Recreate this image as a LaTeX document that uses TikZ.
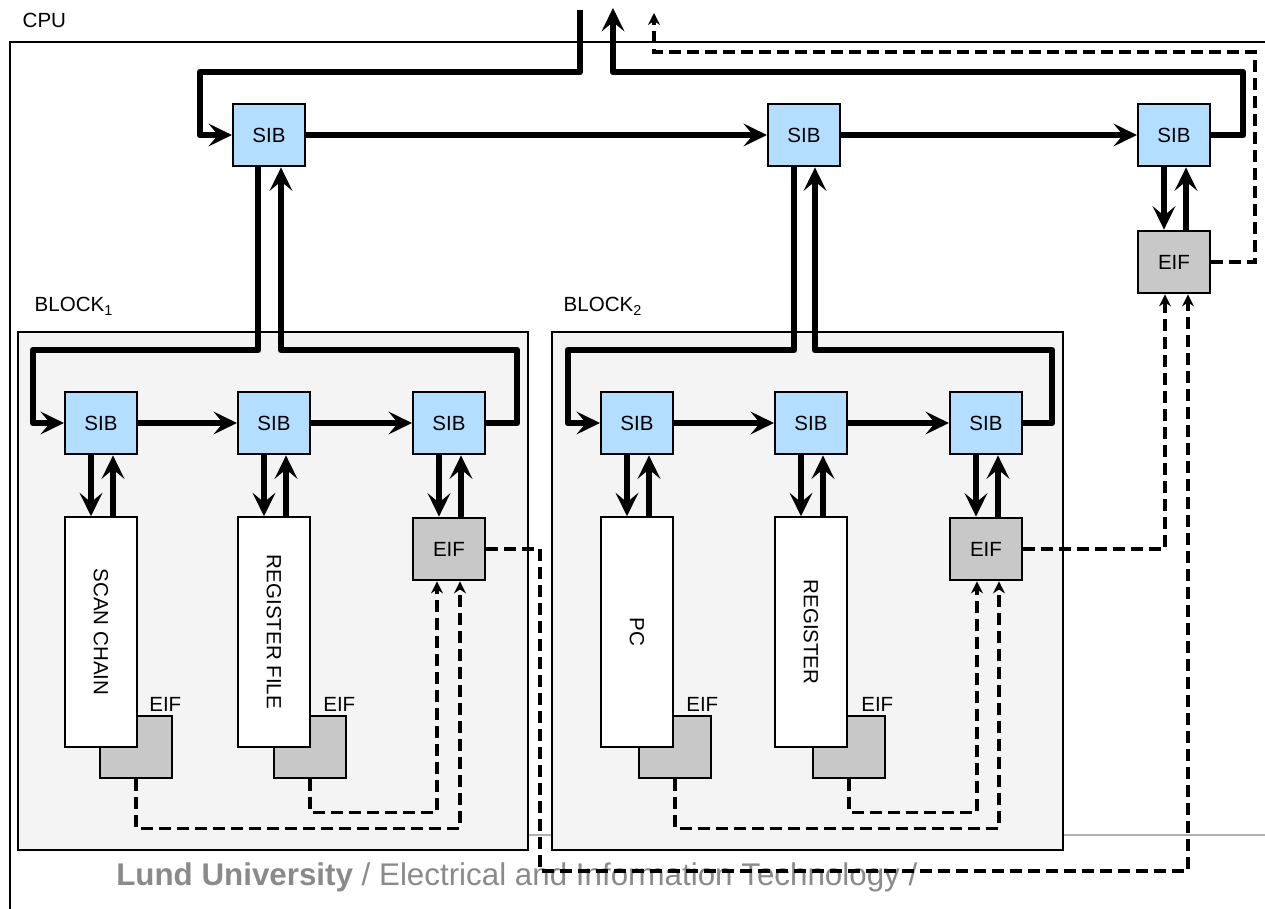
\documentclass[tikz,border=0pt]{standalone}
\usepackage{fontspec}
\setmainfont{Liberation Sans}
\usetikzlibrary{arrows.meta,calc}
\definecolor{sibblue}{RGB}{179,222,255}
\definecolor{eifgray}{RGB}{200,200,200}
\definecolor{blockbg}{RGB}{244,244,244}
\definecolor{footgray}{RGB}{138,138,138}
\definecolor{lineg}{RGB}{176,176,176}
\begin{document}
\begin{tikzpicture}[x=0.75pt,y=-0.75pt,
  every node/.style={font=\fontsize{15.4}{18}\selectfont},
  boxbase/.style={draw, line width=1.6pt, inner sep=0pt, minimum width=54pt, minimum height=47pt},
  sib/.style={boxbase, fill=sibblue},
  eif/.style={boxbase, fill=eifgray},
  unit/.style={draw, line width=1.6pt, fill=white, inner sep=0pt, minimum width=54pt, minimum height=172pt},
  blk/.style={draw, line width=1.6pt, fill=blockbg},
  busline/.style={line width=5pt, line join=round},
  bus/.style={busline, -{Stealth[length=17.5pt,width=17pt,inset=7pt]}},
  dsh/.style={line width=2.6pt, dash pattern=on 9pt off 4.5pt, -{Stealth[length=9pt,width=9pt,inset=3pt]}},
]
\useasboundingbox (0,0) rectangle (1265,909);

% CPU frame
\draw[line width=1.6pt] (10,909) -- (10,42) -- (1265,42);
\node[anchor=base west] (cpulbl) at (18,28) {CPU};

% footer line
\draw[lineg, line width=1.5pt] (500,835) -- (1265,835);

% blocks
\draw[blk] (18,332) rectangle (528,850);
\draw[blk] (552,332) rectangle (1063,850);
\node[anchor=base west] (blk1lbl) at (30,312) {BLOCK\textsubscript{1}};
\node[anchor=base west] (blk2lbl) at (559,312) {BLOCK\textsubscript{2}};

% footer text
\node[anchor=base west, text=footgray, font=\fontsize{23.5}{28}\selectfont, inner sep=0pt] (foot) at (116,885)
  {\textbf{Lund University} / Electrical and Information Technology /};

% top SIBs
\node[sib] (T1) at (269,135) {SIB};
\node[sib] (T2) at (804,135) {SIB};
\node[sib] (T3) at (1174,135) {SIB};
\node[eif] (TE) at (1174,262) {EIF};

% block 1
\node[sib] (A1) at (101,423) {SIB};
\node[sib] (A2) at (274,423) {SIB};
\node[sib] (A3) at (449,423) {SIB};
\node[eif] (AE) at (449,549) {EIF};
\node[eif] (g1) at (136,747) {};
\node[eif] (g2) at (310,747) {};
\node[unit] (sc) at (101,632) {};
\node[unit] (rf) at (274,632) {};
\node[rotate=-90] (sct) at (sc.center) {SCAN CHAIN};
\node[rotate=-90] (rft) at (rf.center) {REGISTER FILE};

% block 2
\node[sib] (B1) at (637,423) {SIB};
\node[sib] (B2) at (811,423) {SIB};
\node[sib] (B3) at (986,423) {SIB};
\node[eif] (BE) at (986,549) {EIF};
\node[eif] (g3) at (675,747) {};
\node[eif] (g4) at (849,747) {};
\node[unit] (pc) at (637,632) {};
\node[unit] (reg) at (811,632) {};
\node[rotate=-90] (pct) at (pc.center) {PC};
\node[rotate=-90] (regt) at (reg.center) {REGISTER};

% EIF labels of L-shapes
\node[anchor=base west, inner sep=0pt] (e1) at ($(sc.east |- g1.north)+(11,-3)$) {EIF};
\node[anchor=base west, inner sep=0pt] (e2) at ($(rf.east |- g2.north)+(12,-3)$) {EIF};
\node[anchor=base west, inner sep=0pt] (e3) at ($(pc.east |- g3.north)+(12,-3)$) {EIF};
\node[anchor=base west, inner sep=0pt] (e4) at ($(reg.east |- g4.north)+(13,-3)$) {EIF};

% free ends at the top
\coordinate (tdi) at (580,10);
\coordinate (tdo) at (613,8);
\coordinate (tto) at (654,13);

% top-level scan path
\draw[busline] (tdi) |- (200,72) -- (200,100);
\draw[bus] (200,90) |- (T1.west);
\draw[bus] (T1.east) -- (T2.west);
\draw[bus] (T2.east) -- (T3.west);
\draw[bus] (T3.east) -| (1243,72) -| (tdo);

% into / out of blocks
\draw[bus] ($(T1.south)+(-11,0)$) |- (33,350) |- (A1.west);
\draw[bus] (A3.east) -| (517,350) -| ($(T1.south)+(12,0)$);
\draw[bus] ($(T2.south)+(-10,0)$) |- (568,350) |- (B1.west);
\draw[bus] (B3.east) -| (1052,350) -| ($(T2.south)+(11,0)$);

% chains inside blocks
\draw[bus] (A1.east) -- (A2.west);
\draw[bus] (A2.east) -- (A3.west);
\draw[bus] (B1.east) -- (B2.west);
\draw[bus] (B2.east) -- (B3.west);

% SIB <-> instrument pairs
\foreach \s/\t in {A1/sc,A2/rf,A3/AE,B1/pc,B2/reg,B3/BE,T3/TE} {
  \draw[bus] ($(\s.south)+(-10,0)$) -- ($(\t.north)+(-10,0)$);
  \draw[bus] ($(\t.north)+(12,0)$) -- ($(\s.south)+(12,0)$);
}

% dashed EIF network
\draw[dsh] (g1.south) -- ++(0,49) -| ($(AE.south)+(11,0)$);
\draw[dsh] (g2.south) -- ++(0,33) -| ($(AE.south)+(-12,0)$);
\draw[dsh] (g3.south) -- ++(0,49) -| ($(BE.south)+(13,0)$);
\draw[dsh] (g4.south) -- ++(0,33) -| ($(BE.south)+(-9,0)$);
\draw[dsh] (AE.east) -| (540,871) -| ($(TE.south)+(14,0)$);
\draw[dsh] (BE.east) -| ($(TE.south)+(-9,0)$);
\draw[dsh] (TE.east) -| (1255,52) -| (tto);
\end{tikzpicture}
\end{document}
